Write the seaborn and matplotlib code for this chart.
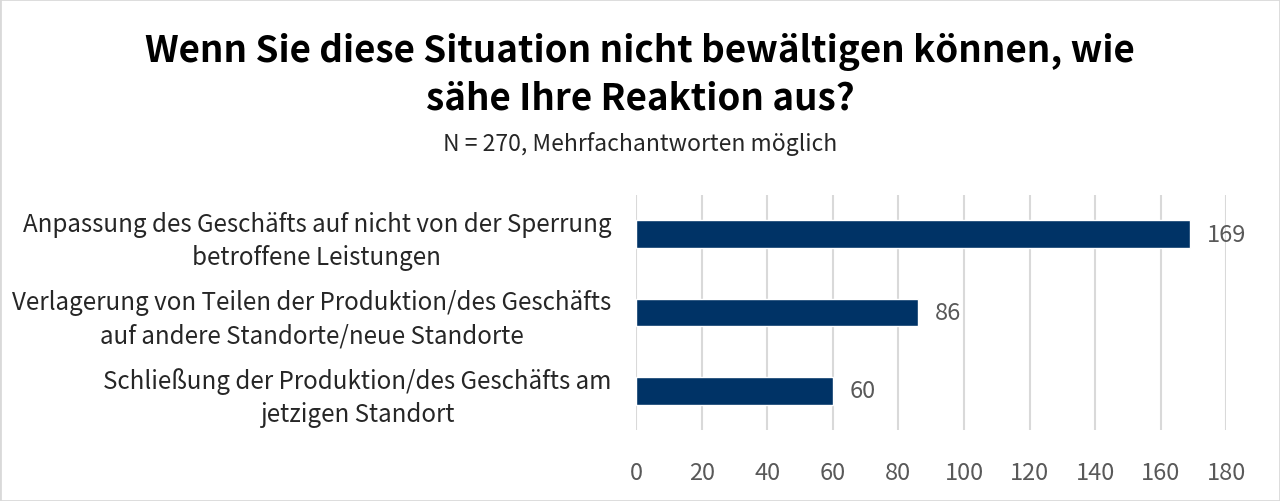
import matplotlib
matplotlib.use("Agg")
import matplotlib.pyplot as plt
import seaborn as sns
import pandas as pd
from matplotlib.patches import Rectangle

# Data
categories = [
    "Anpassung des Geschäfts auf nicht von der Sperrung\nbetroffene Leistungen",
    "Verlagerung von Teilen der Produktion/des Geschäfts\nauf andere Standorte/neue Standorte",
    "Schließung der Produktion/des Geschäfts am\njetzigen Standort",
]
counts = [169, 86, 60]
x_ticks = [0, 20, 40, 60, 80, 100, 120, 140, 160, 180]

title = "Wenn Sie diese Situation nicht bewältigen können, wie\nsähe Ihre Reaktion aus?"
subtitle = "N = 270, Mehrfachantworten möglich"

bar_color = "#003366"
grid_color = "#d9d9d9"
tick_color = "#595959"

sns.set_theme(style="white")
plt.rcParams["font.family"] = ["Noto Sans CJK SC", "DejaVu Sans"]

df = pd.DataFrame({"category": categories, "count": counts})

fig = plt.figure(figsize=(12.8, 5.02), dpi=100)
ax = fig.add_axes([0.497, 0.141, 0.461, 0.469])

sns.barplot(data=df, x="count", y="category", orient="h", color=bar_color,
            width=0.345, saturation=1, ax=ax)

ax.set_xlim(0, 180)
ax.set_ylim(2.5, -0.5)
ax.set_xticks(x_ticks)
ax.xaxis.grid(True, color=grid_color, linewidth=1.5)
ax.set_axisbelow(True)
for s in ax.spines.values():
    s.set_visible(False)
ax.set_xlabel("")
ax.set_ylabel("")
ax.tick_params(axis="x", length=0, pad=22, labelsize=17, labelcolor=tick_color)
ax.tick_params(axis="y", length=0, pad=18, labelsize=17.4, labelcolor="#262626")
for lbl in ax.get_yticklabels():
    lbl.set_multialignment("center")
    lbl.set_linespacing(1.35)

for p, v in zip(ax.patches, counts):
    ax.annotate(str(v), (p.get_width(), p.get_y() + p.get_height() / 2),
                xytext=(12, 0), textcoords="offset points",
                va="center", ha="left", fontsize=17, color=tick_color)

fig.text(0.5, 0.85, title, ha="center", va="center", fontsize=26.5,
         fontweight="bold", color="black", linespacing=1.35)
fig.text(0.5, 0.713, subtitle, ha="center", va="center", fontsize=16.5,
         color="#262626")

fig.patches.append(Rectangle((0, 0), 1, 1, transform=fig.transFigure,
                             fill=False, edgecolor=grid_color, linewidth=2))

fig.savefig("out.png", dpi=100, facecolor="white")
